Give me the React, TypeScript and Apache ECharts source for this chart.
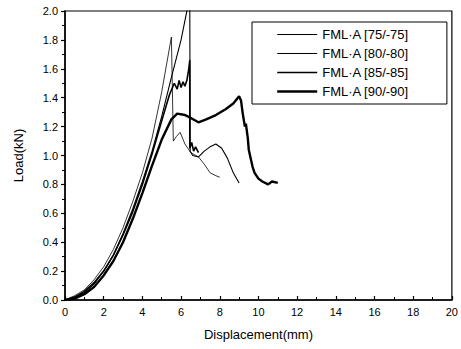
import React, { useEffect, useRef } from "react";
import * as echarts from "echarts";

const seriesNames = ["FML·A [75/-75]", "FML·A [80/-80]", "FML·A [85/-85]", "FML·A [90/-90]"];

const curve75: [number, number][] = [
  [0, 0], [0.5, 0.03], [1, 0.07], [1.5, 0.14], [2, 0.23], [2.5, 0.35], [3, 0.5], [3.5, 0.68],
  [4, 0.88], [4.5, 1.12], [5, 1.44], [5.5, 1.82], [5.6, 1.1], [5.75, 1.13], [5.95, 1.16],
  [6.2, 1.08], [6.5, 1.02], [6.9, 0.99], [7.2, 0.94], [7.5, 0.88], [7.8, 0.86], [8.0, 0.85],
];
const curve80: [number, number][] = [
  [0, 0], [0.5, 0.02], [1, 0.05], [1.5, 0.11], [2, 0.2], [2.5, 0.31], [3, 0.46], [3.5, 0.63],
  [4, 0.82], [4.5, 1.03], [5, 1.27], [5.5, 1.54], [6, 1.8], [6.45, 2.1], [6.47, 1.03],
  [6.6, 1.0], [6.9, 0.99], [7.2, 1.03], [7.5, 1.06], [7.8, 1.08], [8.1, 1.05], [8.4, 0.98],
  [8.7, 0.88], [9.0, 0.81],
];
const curve85: [number, number][] = [
  [0, 0], [0.5, 0.02], [1, 0.06], [1.5, 0.12], [2, 0.2], [2.5, 0.31], [3, 0.45], [3.5, 0.61],
  [4, 0.8], [4.5, 1.01], [5, 1.24], [5.4, 1.42], [5.65, 1.5], [5.8, 1.46], [5.9, 1.52],
  [6.0, 1.47], [6.1, 1.51], [6.2, 1.48], [6.3, 1.52], [6.4, 1.6], [6.45, 1.66], [6.45, 1.05],
  [6.55, 1.09], [6.65, 1.03], [6.75, 1.06], [6.9, 1.02],
];
const curve90: [number, number][] = [
  [0, 0], [0.5, 0.01], [1, 0.04], [1.5, 0.09], [2, 0.17], [2.5, 0.27], [3, 0.4], [3.5, 0.56],
  [4, 0.74], [4.5, 0.93], [5, 1.11], [5.5, 1.25], [5.8, 1.29], [6.2, 1.28], [6.5, 1.26],
  [6.9, 1.23], [7.3, 1.25], [7.8, 1.28], [8.3, 1.32], [8.7, 1.36], [9.0, 1.41], [9.1, 1.38],
  [9.2, 1.28], [9.3, 1.2], [9.35, 1.22], [9.45, 1.12], [9.5, 1.04], [9.6, 0.98], [9.7, 0.92],
  [9.8, 0.88], [10.0, 0.84], [10.2, 0.82], [10.5, 0.8], [10.7, 0.82], [11.0, 0.81],
];

const curves = [curve75, curve80, curve85, curve90];
const widths = [0.8, 1.1, 1.6, 2.4];

export default function App() {
  const ref = useRef<HTMLDivElement>(null);
  useEffect(() => {
    if (!ref.current) return;
    const chart = echarts.init(ref.current, undefined, { renderer: "svg" });
    const font = "Liberation Sans, Arial, sans-serif";
    const legendText = { fontFamily: font, fontSize: 13, color: "#000", fontWeight: "normal", textBorderWidth: 0 };
    chart.setOption({
      animation: false,
      backgroundColor: "#fff",
      grid: {
        left: 65, right: 8, top: 11, bottom: 49, show: true,
        borderColor: "#000", borderWidth: 1.2,
      },
      legend: {
        show: true,
        orient: "vertical",
        left: 252, top: 22,
        itemWidth: 40, itemHeight: 14, itemGap: 6,
        padding: [6, 38, 6, 24],
        borderColor: "#000", borderWidth: 1,
        backgroundColor: "#fff",
        itemStyle: { opacity: 0 },
        textStyle: legendText,
        data: seriesNames.map((n, i) => ({
          name: n,
          itemStyle: { opacity: 0 },
          lineStyle: { color: "#000", width: Math.max(1, widths[i]) },
          textStyle: legendText,
        })),
      },
      xAxis: {
        type: "value", min: 0, max: 20, interval: 2,
        name: "Displacement(mm)", nameLocation: "middle", nameGap: 28,
        nameTextStyle: { fontFamily: font, fontSize: 13, color: "#000" },
        axisLine: { lineStyle: { color: "#000", width: 1.5 } },
        axisTick: { inside: true, length: 4, lineStyle: { color: "#000", width: 1.2 } },
        minorTick: { show: true, splitNumber: 2, length: 3, lineStyle: { color: "#000", width: 1 } },
        axisLabel: { fontFamily: font, fontSize: 11, color: "#000", margin: 6 },
        splitLine: { show: false },
      },
      yAxis: {
        type: "value", min: 0, max: 2, interval: 0.2,
        name: "Load(kN)", nameLocation: "middle", nameGap: 40, nameRotate: 90,
        nameTextStyle: { fontFamily: font, fontSize: 13, color: "#000" },
        axisLine: { show: true, lineStyle: { color: "#000", width: 1.5 } },
        axisTick: { show: true, inside: false, length: 4, lineStyle: { color: "#000", width: 1.2 } },
        minorTick: { show: true, splitNumber: 2, length: 3, lineStyle: { color: "#000", width: 1 } },
        axisLabel: { fontFamily: font, fontSize: 11, color: "#000", margin: 7, formatter: (v: number) => v.toFixed(1) },
        splitLine: { show: false },
      },
      series: curves.map((c, i) => ({
        name: seriesNames[i],
        type: "line",
        data: c,
        showSymbol: false,
        symbol: "none",
        clip: true,
        lineStyle: { color: "#000", width: widths[i] },
        itemStyle: { color: "#000" },
      })),
    });
    return () => chart.dispose();
  }, []);
  return <div ref={ref} style={{ width: 461, height: 349, position: "absolute", left: 0, top: 0 }} />;
}
